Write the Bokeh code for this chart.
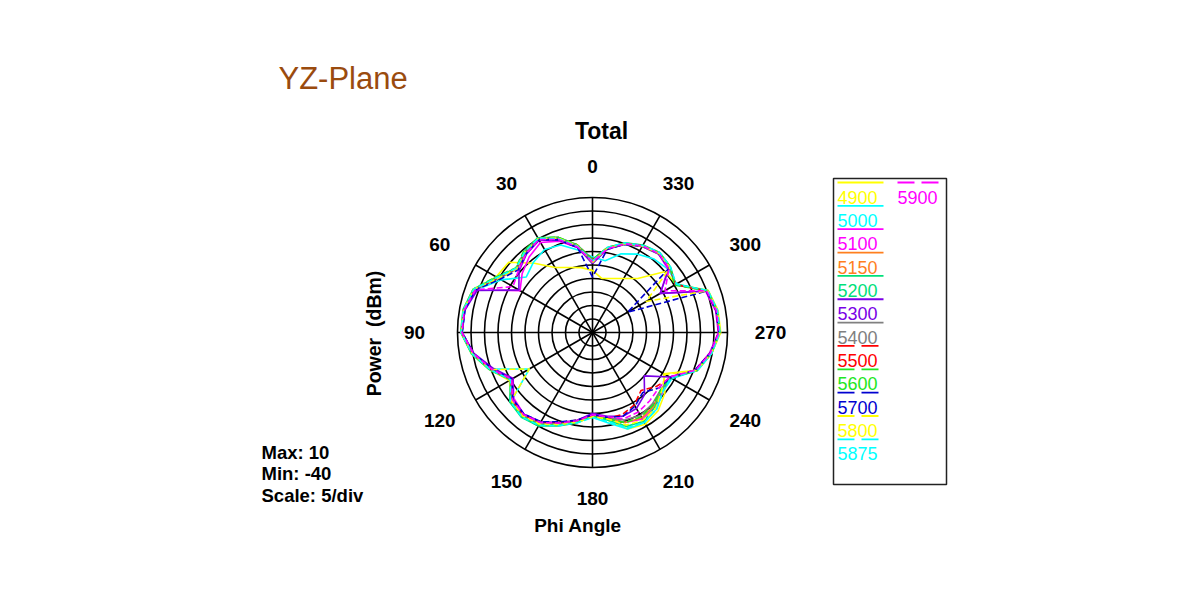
import numpy as np
from bokeh.plotting import figure
from bokeh.models import Range1d
from bokeh.core.properties import value
from bokeh.embed import file_html
from bokeh.resources import INLINE

# ---------------- data ----------------
phi_deg = list(range(0, 360, 10))          # Phi angle (deg), counter-clockwise from top
ring_levels = [-35, -30, -25, -20, -15, -10, -5, 0, 5, 10]
r_min, r_max = -40, 10
angle_ticks = [0, 30, 60, 90, 120, 150, 180, 210, 240, 270, 300, 330]

freqs = ["4900", "5000", "5100", "5150", "5200", "5300", "5400",
         "5500", "5600", "5700", "5800", "5875", "5900"]
colors = ["#FFFF00", "#00FFFF", "#FF00FF", "#FF7F1E", "#00E07A", "#7A00E6", "#808080",
          "#FF0000", "#22E622", "#0000D0", "#FFFF00", "#00FFFF", "#FF00FF"]
dashed = [False, False, False, False, False, False, False,
          True, True, True, True, True, True]

s4900 = [-17, -15.6, -14.4, -12.2, -6.5, 0.5, 1.2, 6.8, 8.6, 8.8, 5.5, 0.5, -4.5, -0.5, 0.3, -0.8, -3.6, -6.3,
         -9.5, -7, -2, -0.8, -2.2, -5, -9.5, 0.8, 4.8, 7.5, 7.2, 5.6, -4.2, -4.8, -13.9, -16.9, -18.7, -19.7]
s5000 = [-12, -9, -5.5, -4.5, -6, -8, -1, 6, 8, 8.2, 4.8, -0.5, -13, -1, 0.8, -0.5, -3.5, -6.5,
         -8.5, -6, -2, -1.5, -3, -6, -6, 1.2, 4.2, 6.8, 6.5, 5, -4, -3.5, -4.5, -6.5, -9, -13]
s5100 = [-14, -8, -4, -1.5, -3.5, -6, -9, 6, 8, 8.3, 4.8, -0.5, -6, -2, -0.5, -1.5, -4.2, -6.5,
         -10, -8, -4.5, -3, -4, -6, -7, 0.5, 4, 6.6, 6.3, 4.6, -11, -3.5, -2, -3, -5, -8.5]
s5150 = [-13, -7, -2.5, 0.3, -1, -3, 0.5, 6.8, 8.5, 8.4, 5.2, 0.3, -5, -0.5, 0.5, -0.8, -3.8, -6.3,
         -9, -7.5, -4.5, -3.5, -4.5, -7, -6.5, 1, 4.6, 7.2, 6.9, 5.3, -4.5, -2.5, -1.6, -3, -5, -8.3]
s5200 = [-13, -7, -2.5, 0.5, -0.8, -3, 1, 7, 8.7, 8.8, 5.5, 0.5, -5, 0, 1, 0, -3.2, -6,
         -9, -7, -3, -2, -4, -6.5, -6.5, 1.3, 4.8, 7.2, 7, 5.5, -4.5, -2.3, -1.3, -2.6, -4.6, -8]
s5300 = [-14.5, -8, -3.5, -0.5, -2, -4.5, -8.5, 5.5, 8, 8.3, 4.6, -1, -6, -1.5, -0.5, -1.8, -4.5, -7,
         -10, -8.5, -7, -7.5, -10, -15, -7, 0.8, 4.3, 6.8, 6.6, 5, -11, -3, -2, -3.2, -5.3, -8.7]
s5400 = [-13.5, -7.3, -3, 0, -1.3, -3.5, 0, 6.5, 8.3, 8.5, 5, 0, -5, -0.8, 0.2, -1, -4, -6.5,
         -9, -8, -5.5, -4.5, -5.5, -7, -6.5, 1, 4.5, 7, 6.8, 5.2, -4.5, -2.8, -1.9, -3.2, -5.2, -8.5]
s5500 = [-13, -7, -2.8, 0.2, -1, -3.2, 0.5, 6.5, 8.3, 8.4, 5, 0, -5.5, -1, -0.2, -1.5, -4.5, -7,
         -9, -7.7, -7.7, -9, -12, -9, -6.5, 0.5, 4.3, 6.8, 6.6, 5, -4.5, -2.5, -1.7, -3, -5, -8.3]
s5600 = [-13, -7, -2.5, 0.5, -0.5, -2.8, 1.2, 7, 8.6, 8.7, 5.3, 0.5, -5, -0.3, 0.6, -0.5, -3.5, -6.3,
         -9, -7.5, -4.5, -4, -5, -7, -6.5, 1, 4.6, 7, 6.8, 5.2, -5, -2.3, -1.5, -2.8, -4.8, -8]
s5700 = [-19.5, -8, -3.5, -0.3, -1.8, -4, -0.5, 6.2, 8, 8.3, 4.8, -0.5, -5.5, -1.5, -0.5, -1.8, -4.8, -7,
         -9.5, -8, -7, -8.5, -11, -8, -6.5, 0.5, 4.2, 6.8, 6.5, 4.8, -25, -3, -1.8, -3, -5.2, -8.8]
s5800 = [-14, -7.3, -2.8, 0.2, -1, -3.3, 0.3, 6.8, 8.5, 8.6, 5.2, 0.2, -13, -0.8, 0.3, -0.8, -3.7, -6.2,
         -8.8, -7.5, -3.5, -2.5, -3.5, -6.5, -9, 1.2, 4.7, 7.3, 7, 5.4, -17, -2.6, -1.7, -3, -5, -8.2]
s5875 = [-13.5, -7.5, -3, 0.3, -1, -3, 0.8, 6.8, 8.5, 8.7, 5.3, 0.3, -5, -0.3, 0.8, -0.3, -3.3, -6,
         -8.5, -6.5, -2.5, -1.5, -3, -6, -6.5, 1.3, 4.8, 7.2, 7, 5.5, -4.2, -2.3, -1.3, -2.8, -4.7, -8]
s5900 = [-13.8, -7.8, -3.3, -0.3, -1.8, -4.2, -6, 6.2, 8.2, 8.4, 4.8, -0.3, -5.5, -1.3, -0.3, -1.5, -4.3, -6.8,
         -9.5, -8.3, -6, -6, -7, -8, -7, 0.7, 4.3, 6.8, 6.6, 5, -9, -3, -1.8, -3, -5, -8.6]
series = [s4900, s5000, s5100, s5150, s5200, s5300, s5400, s5500, s5600, s5700, s5800, s5875, s5900]

# ---------------- layout helpers (screen pixels -> data units) ----------------
W, H = 1184, 584
CX, CY = 592.0, 332.0      # screen position of polar centre
K = 2.7                    # pixels per dB
def X(px): return (px - CX) / K
def Y(py): return (CY - py) / K

p = figure(width=W, height=H, output_backend="svg", toolbar_location=None,
           x_range=Range1d(X(0), X(W)), y_range=Range1d(Y(H), Y(0)),
           x_axis_location=None, y_axis_location=None, min_border=0,
           outline_line_color=None, background_fill_color="white", border_fill_color="white")
p.grid.visible = False

FONT = value("Liberation Sans")

def pol(db, deg):
    r = np.asarray(db, dtype=float) - r_min
    t = np.radians(np.asarray(deg, dtype=float))
    return -r * np.sin(t), r * np.cos(t)

# rings
radii = [lv - r_min for lv in ring_levels]
p.circle(x=[0] * len(radii), y=[0] * len(radii), radius=radii,
         fill_color=None, line_color="black", line_width=1.6)
# spokes
sp = np.array(angle_ticks[:6], dtype=float)
x0, y0 = pol([r_max] * 6, sp)
x1, y1 = pol([r_max] * 6, sp + 180)
p.segment(x0=x0, y0=y0, x1=x1, y1=y1, line_color="black", line_width=1.6)

# curves
for vals, col, d in zip(series, colors, dashed):
    v = list(vals) + [vals[0]]
    a = phi_deg + [360]
    xs, ys = pol(v, a)
    p.line(xs, ys, line_color=col, line_width=1.6,
           line_dash="6 3" if d else "solid", line_join="round")

# angle labels
at = np.radians(np.array(angle_ticks, dtype=float))
rl = (166 + 12 * np.abs(np.sin(at))) / K
p.text(x=-rl * np.sin(at), y=rl * np.cos(at), text=[str(a) for a in angle_ticks],
       text_font=FONT, text_font_style="bold", text_font_size="19px",
       text_align="center", text_baseline="middle", text_color="black")

# titles / axis labels
p.text(x=[X(278)], y=[Y(78)], text=["YZ-Plane"], text_font=FONT, text_font_size="31px",
       text_align="left", text_baseline="middle", text_color="#9A4B0E")
p.text(x=[X(601)], y=[Y(130)], text=["Total"], text_font=FONT, text_font_style="bold",
       text_font_size="23px", text_align="center", text_baseline="middle", text_color="black")
p.text(x=[X(577.5)], y=[Y(525)], text=["Phi Angle"], text_font=FONT, text_font_style="bold",
       text_font_size="19px", text_align="center", text_baseline="middle", text_color="black")
p.text(x=[X(373.5)], y=[Y(333)], text=["Power\u00a0 (dBm)"], angle=np.pi / 2, text_font=FONT,
       text_font_style="bold", text_font_size="19.5px", text_align="center",
       text_baseline="middle", text_color="black")
info = [f"Max: {r_max}", f"Min: {r_min}", "Scale: 5/div"]
p.text(x=[X(261)] * 3, y=[Y(451.5), Y(473.3), Y(495)], text=info, text_font=FONT,
       text_font_style="bold", text_font_size="18.5px", text_align="left",
       text_baseline="middle", text_color="black")

# legend box
p.quad(left=[X(833)], right=[X(946)], top=[Y(178)], bottom=[Y(484)],
       fill_color=None, line_color="#222222", line_width=1.5)
row_h = 23.35
for i, (f, col, d) in enumerate(zip(freqs, colors, dashed)):
    if i < 12:
        lx, ly = 837, 196.5 + row_h * i
    else:
        lx, ly = 897, 196.5
    ln_len = 41 if d else 46
    p.line([X(lx), X(lx + ln_len)], [Y(ly - 14.5)] * 2, line_color=col, line_width=1.8,
           line_dash="17 7" if d else "solid")
    p.text(x=[X(lx)], y=[Y(ly)], text=[f], text_font=FONT, text_font_size="18px",
           text_align="left", text_baseline="middle", text_color=col)

open("out.html", "w").write(file_html(p, INLINE))
